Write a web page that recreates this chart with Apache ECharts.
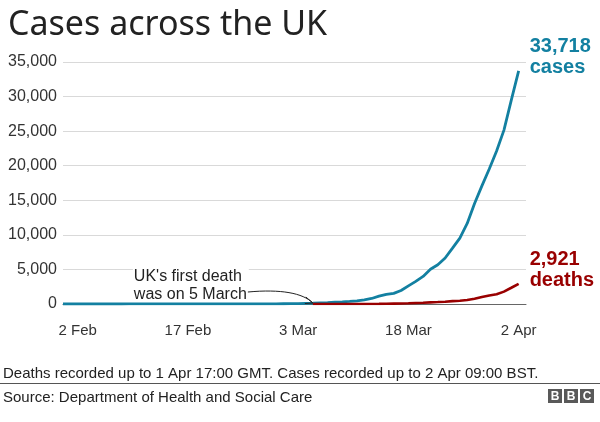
<!DOCTYPE html>
<html>
<head>
<meta charset="utf-8">
<script src="https://cdn.jsdelivr.net/npm/echarts@6/dist/echarts.min.js"></script>
<style>
html,body{margin:0;padding:0;background:#fff;}
#c{width:600px;height:422px;}
</style>
</head>
<body>
<div id="c"></div>
<script>
const dates = [
 '31 Jan','1 Feb','2 Feb','3 Feb','4 Feb','5 Feb','6 Feb','7 Feb','8 Feb','9 Feb','10 Feb',
 '11 Feb','12 Feb','13 Feb','14 Feb','15 Feb','16 Feb','17 Feb','18 Feb','19 Feb','20 Feb',
 '21 Feb','22 Feb','23 Feb','24 Feb','25 Feb','26 Feb','27 Feb','28 Feb','29 Feb',
 '1 Mar','2 Mar','3 Mar','4 Mar','5 Mar','6 Mar','7 Mar','8 Mar','9 Mar','10 Mar',
 '11 Mar','12 Mar','13 Mar','14 Mar','15 Mar','16 Mar','17 Mar','18 Mar','19 Mar','20 Mar',
 '21 Mar','22 Mar','23 Mar','24 Mar','25 Mar','26 Mar','27 Mar','28 Mar','29 Mar','30 Mar',
 '31 Mar','1 Apr','2 Apr','3 Apr'
];
const tickLabels = ['2 Feb','17 Feb','3 Mar','18 Mar','2 Apr'];
const cases = [
 2,2,2,2,2,2,3,3,3,4,8,
 8,9,9,9,9,9,9,9,9,9,
 9,9,13,13,13,13,15,20,23,
 36,40,51,85,115,163,206,273,321,373,
 456,590,798,1140,1391,1543,1950,2626,3269,3983,
 5018,5683,6650,8077,9529,11658,14543,17089,19522,22141,
 25150,29474,33718,null
];
const deaths = [
 null,null,null,null,null,null,null,null,null,null,null,
 null,null,null,null,null,null,null,null,null,null,
 null,null,null,null,null,null,null,null,null,
 null,null,null,null,1,2,2,3,4,6,
 8,8,10,21,35,55,71,104,144,177,
 233,281,335,422,465,578,759,1019,1228,1408,
 1789,2352,2921,null
];
const yTicks = [0,5000,10000,15000,20000,25000,30000,35000];
const casesLabel = ['33,718','cases'];
const deathsLabel = ['2,921','deaths'];
const firstDeathDate = '5 Mar';
const annotation = ["UK's first death", 'was on 5 March'];

const TEAL = '#1380A1', RED = '#990000';
const chart = echarts.init(document.getElementById('c'), null, {renderer:'canvas'});
const fmt = v => v.toLocaleString('en-GB');
const AR = '"Liberation Sans", Arial';

chart.setOption({
  animation:false,
  backgroundColor:'#fff',
  grid:{left:63, right:74, top:62, bottom:118},
  xAxis:{
    type:'category', data:dates, boundaryGap:false,
    axisLine:{show:true, lineStyle:{color:'#666', width:1}},
    axisTick:{show:false},
    axisLabel:{
      interval:(i,v)=>tickLabels.indexOf(v)>=0,
      color:'#333', fontSize:15, fontFamily:AR, margin:19
    },
    splitLine:{show:false}
  },
  yAxis:{
    type:'value', min:yTicks[0], max:yTicks[yTicks.length-1], interval:5000,
    axisLine:{show:false}, axisTick:{show:false},
    axisLabel:{formatter:v=>fmt(v), color:'#333', fontSize:16, fontFamily:AR, margin:6},
    splitLine:{lineStyle:{color:'#d9d9d9', width:1}}
  },
  title:{
    text:'Cases across the UK', left:3, top:3,
    textStyle:{fontSize:34, fontWeight:'normal', color:'#222', fontFamily:'Noto Sans, Open Sans'}
  },
  series:[
    {name:'cases', type:'line', data:cases, showSymbol:false, symbol:'none',
     lineStyle:{color:TEAL, width:2.8}, z:3},
    {name:'deaths', type:'line', data:deaths, showSymbol:false, symbol:'none',
     lineStyle:{color:RED, width:2.6}, z:4}
  ]
});

// annotations positioned from library scales
const lastIdx = cases.length - 2;
const pC = chart.convertToPixel({gridIndex:0}, [dates[lastIdx], cases[lastIdx]]);
const pD = chart.convertToPixel({gridIndex:0}, [dates[lastIdx], deaths[lastIdx]]);
const pF = chart.convertToPixel({gridIndex:0}, [firstDeathDate, 0]);
const lblFont = 'bold 20px ' + AR;
const tx = pF[0], ty = pF[1] - 1;
const sx = tx - 65, sy = ty - 11;
chart.setOption({
  graphic:[
    {type:'text', left:pC[0]+11, top:pC[1]-35,
     style:{text:casesLabel.join('\n'), font:lblFont, fill:TEAL, lineHeight:21}},
    {type:'text', left:pD[0]+11, top:pD[1]-35,
     style:{text:deathsLabel.join('\n'), font:lblFont, fill:RED, lineHeight:21}},
    {type:'text', x:sx-115, y:sy-24, z:1,
     style:{text:annotation.join('\n'), font:'16px ' + AR, fill:'#222', lineHeight:18,
            backgroundColor:'#fff', padding:[0,2,0,1]}},
    {type:'bezierCurve', shape:{x1:sx, y1:sy, cpx1:tx-32, cpy1:sy-3, cpx2:tx-10, cpy2:sy+1, x2:tx, y2:ty},
     style:{stroke:'#222', lineWidth:1, fill:null}, z:10},
    {type:'polyline', shape:{points:[[tx-7, ty-6],[tx,ty],[tx-8,ty+0.5]]},
     style:{stroke:'#222', lineWidth:1, fill:null}, z:10},
    // footer
    {type:'text', left:3, top:366,
     style:{text:'Deaths recorded up to 1 Apr 17:00 GMT. Cases recorded up to 2 Apr 09:00 BST.',
            font:'15px ' + AR, fill:'#222'}},
    {type:'line', shape:{x1:0, y1:383.5, x2:600, y2:383.5}, style:{stroke:'#555', lineWidth:1}},
    {type:'text', left:3, top:390,
     style:{text:'Source: Department of Health and Social Care', font:'15px ' + AR, fill:'#222'}},
    {type:'group', left:548, top:389, children:[
      {type:'rect', shape:{x:0,y:0,width:14,height:14}, style:{fill:'#595959'}},
      {type:'rect', shape:{x:16,y:0,width:14,height:14}, style:{fill:'#595959'}},
      {type:'rect', shape:{x:32,y:0,width:14,height:14}, style:{fill:'#595959'}},
      {type:'text', x:7, y:7.5, style:{text:'B', font:'bold 12px ' + AR, fill:'#fff', align:'center', verticalAlign:'middle'}},
      {type:'text', x:23, y:7.5, style:{text:'B', font:'bold 12px ' + AR, fill:'#fff', align:'center', verticalAlign:'middle'}},
      {type:'text', x:39, y:7.5, style:{text:'C', font:'bold 12px ' + AR, fill:'#fff', align:'center', verticalAlign:'middle'}}
    ]}
  ]
});
</script>
</body>
</html>
